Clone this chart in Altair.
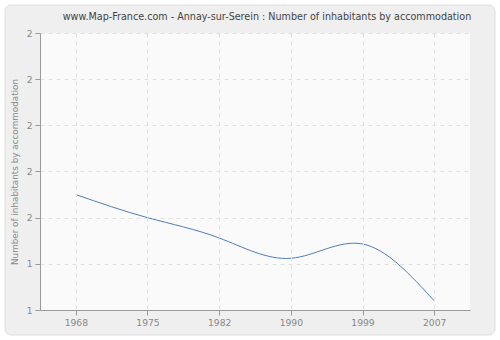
import altair as alt
import pandas as pd

years = ["1968", "1975", "1982", "1990", "1999", "2007"]
values = [1.55, 1.50, 1.456, 1.412, 1.443, 1.32]
y_ticks = [1.3, 1.4, 1.5, 1.6, 1.7, 1.8, 1.9]
title_text = "www.Map-France.com - Annay-sur-Serein : Number of inhabitants by accommodation"
y_title = "Number of inhabitants by accommodation"

df = pd.DataFrame({"year": years, "value": values})
one = pd.DataFrame({"a": [0]})

W, H = 430, 277
FONT = "DejaVu Sans"

panel = alt.Chart(one).mark_rect(
    fill="#efefef", stroke="#dedede", strokeWidth=1, cornerRadius=6
).encode(
    x=alt.value(-35), x2=alt.value(455), y=alt.value(-28), y2=alt.value(302)
)

plotbg = alt.Chart(one).mark_rect(fill="#fafafa").encode(
    x=alt.value(0), x2=alt.value(W), y=alt.value(0), y2=alt.value(H)
)

title = alt.Chart(one).mark_text(
    text=title_text, font=FONT, fontSize=9.6, color="#444444",
    align="center", baseline="middle"
).encode(x=alt.value(227), y=alt.value(-16))

line = alt.Chart(df).mark_line(
    color="#4f7fb5", strokeWidth=1, interpolate="natural"
).encode(
    x=alt.X("year:O", sort=years,
            scale=alt.Scale(type="point", padding=0.5),
            axis=alt.Axis(title=None, labelAngle=0, grid=True,
                          gridDash=[4, 4], gridColor="#e2e2e2",
                          domainColor="#999999", tickColor="#999999",
                          tickSize=5, labelColor="#888888", labelFont=FONT,
                          labelFontSize=9.2, labelPadding=3, zindex=1)),
    y=alt.Y("value:Q",
            scale=alt.Scale(domain=[1.3, 1.9], nice=False, zero=False),
            axis=alt.Axis(title=y_title, values=y_ticks,
                          labelExpr="datum.value < 1.45 ? '1' : '2'",
                          grid=True, gridDash=[4, 4], gridColor="#e2e2e2",
                          domainColor="#999999", tickColor="#999999",
                          tickSize=5, labelColor="#888888", labelFont=FONT,
                          labelFontSize=9.2, labelPadding=3,
                          titleColor="#888888", titleFont=FONT,
                          titleFontSize=8.8, titleFontWeight="normal",
                          titlePadding=7, zindex=1)),
)

chart = alt.layer(panel, plotbg, title, line).properties(
    width=W, height=H,
    autosize=alt.AutoSizeParams(type="none"),
    padding={"left": 40, "top": 33, "right": 30, "bottom": 30},
    background="white",
).configure_view(stroke=None)

chart.save("out.html", embed_options={"renderer": "svg", "actions": False})
